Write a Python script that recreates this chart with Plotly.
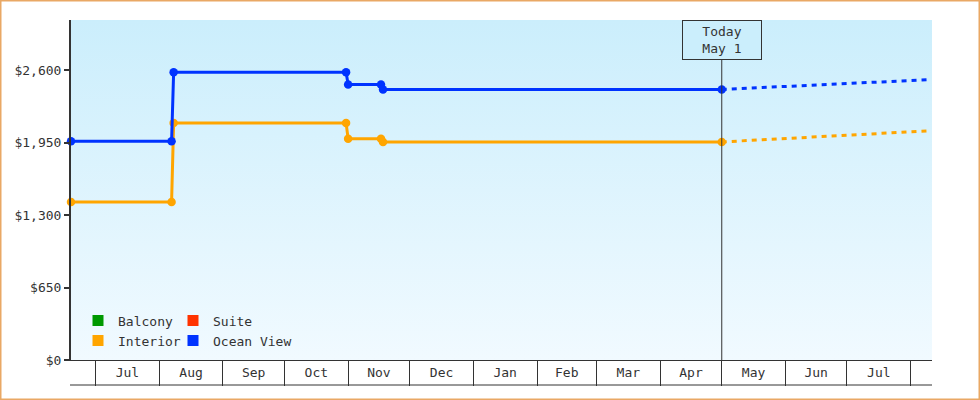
import plotly.graph_objects as go

# ---------------------------------------------------------------------------
# data read off the chart (price per cabin type, observed + forecast)
# ---------------------------------------------------------------------------
interior_dates = ["2023-06-19", "2023-08-07", "2023-08-08", "2023-10-31",
                  "2023-11-01", "2023-11-17", "2023-11-18", "2024-05-01"]
interior_prices = [1417, 1417, 2127, 2127, 1984, 1984, 1956, 1956]

ocean_dates = ["2023-06-19", "2023-08-07", "2023-08-08", "2023-10-31",
               "2023-11-01", "2023-11-17", "2023-11-18", "2024-05-01"]
ocean_prices = [1962, 1962, 2582, 2582, 2471, 2471, 2427, 2427]

forecast_dates = ["2024-05-01", "2024-08-09"]
interior_forecast = [1956, 2055]
ocean_forecast = [2427, 2514]

today = "2024-05-01"
today_label = "Today<br>May 1"

y_ticks = [0, 650, 1300, 1950, 2600]
y_tick_labels = ["$0", "$650", "$1,300", "$1,950", "$2,600"]

x_range = ["2023-06-19", "2024-08-11 10:00"]
y_range = [0, 3050]

legend_names = ["Balcony", "Suite", "Interior", "Ocean View"]
legend_colors = ["#009900", "#ff3300", "#ffa500", "#0033ff"]
legend_slot = ["legend", "legend2", "legend", "legend2"]  # two columns

FONT = "DejaVu Sans Mono"
INK = "#333333"
W, H = 980, 400
M = dict(l=71, r=48, t=20, b=40)
PW = W - M["l"] - M["r"]
PH = H - M["t"] - M["b"]

fig = go.Figure()

# gradient plot background
fig.add_trace(go.Scatter(
    x=[x_range[0], x_range[1], x_range[1], x_range[0]],
    y=[y_range[0], y_range[0], y_range[1], y_range[1]],
    fill="toself", mode="none", hoverinfo="skip", showlegend=False,
    fillgradient=dict(type="vertical",
                      colorscale=[[0, "#f1faff"], [1, "#cbeefc"]]),
))

# observed prices
for dates, prices, color in [(interior_dates, interior_prices, "#ffa500"),
                             (ocean_dates, ocean_prices, "#0033ff")]:
    fig.add_trace(go.Scatter(
        x=dates, y=prices, mode="lines+markers", showlegend=False,
        line=dict(color=color, width=3),
        marker=dict(color=color, size=8.5, symbol="circle"),
        cliponaxis=False,
    ))

# forecast
for prices, color in [(interior_forecast, "#ffa500"),
                      (ocean_forecast, "#0033ff")]:
    fig.add_trace(go.Scatter(
        x=forecast_dates, y=prices, mode="lines", showlegend=False,
        line=dict(color=color, width=3, dash="5px,5px"),
    ))

# legend proxies
for name, color, slot in zip(legend_names, legend_colors, legend_slot):
    fig.add_trace(go.Scatter(
        x=[None], y=[None], mode="markers", name=name,
        marker=dict(symbol="square", size=11, color=color),
        legend=slot,
    ))

# today marker
fig.add_vline(x=today, line=dict(color=INK, width=1))
fig.add_annotation(
    x=today, xref="x", y=1, yref="paper", yanchor="top",
    text=today_label, showarrow=False,
    font=dict(family=FONT, size=13, color=INK),
    width=74, height=34, borderpad=2,
    bordercolor=INK, borderwidth=1, bgcolor="#cbeefc",
)

# bottom rule of the month boxes
fig.add_shape(type="line", xref="paper", yref="paper",
              x0=-1 / PW, x1=1, y0=-25 / PH, y1=-25 / PH,
              line=dict(color=INK, width=1))

# outer frame
fig.add_shape(type="rect", xref="paper", yref="paper",
              x0=(0.75 - M["l"]) / PW, x1=(W - 0.75 - M["l"]) / PW,
              y0=-(M["b"] - 0.75) / PH, y1=(PH + M["t"] - 0.75) / PH,
              line=dict(color="#e9a865", width=1.5))

legend_style = dict(
    orientation="v", xanchor="left", yanchor="bottom", y=0.013,
    font=dict(family=FONT, size=13, color=INK),
    bgcolor="rgba(0,0,0,0)", itemclick=False, tracegroupgap=0,
)

fig.update_layout(
    width=W, height=H, margin=M,
    paper_bgcolor="white", plot_bgcolor="rgba(0,0,0,0)",
    font=dict(family=FONT, size=13, color=INK),
    hovermode=False,
    legend=dict(legend_style, x=7 / PW),
    legend2=dict(legend_style, x=102 / PW),
    xaxis=dict(
        type="date", range=x_range, dtick="M1", tick0="2000-01-01",
        tickformat="%b", ticklabelmode="period",
        ticks="outside", ticklen=25, tickwidth=1, tickcolor=INK,
        ticklabelstandoff=-25,
        showline=True, linecolor=INK, linewidth=1, showgrid=False,
        zeroline=False,
    ),
    yaxis=dict(
        range=y_range, tickvals=y_ticks, ticktext=y_tick_labels,
        ticks="outside", ticklen=5, tickwidth=2, tickcolor=INK,
        showline=True, linecolor=INK, linewidth=2, showgrid=False,
        zeroline=False,
    ),
)

# the page is photographed edge to edge, so drop the default body margin
fig.write_html("out.html", config={"displayModeBar": False},
               post_script="document.body.style.margin = '0';")
